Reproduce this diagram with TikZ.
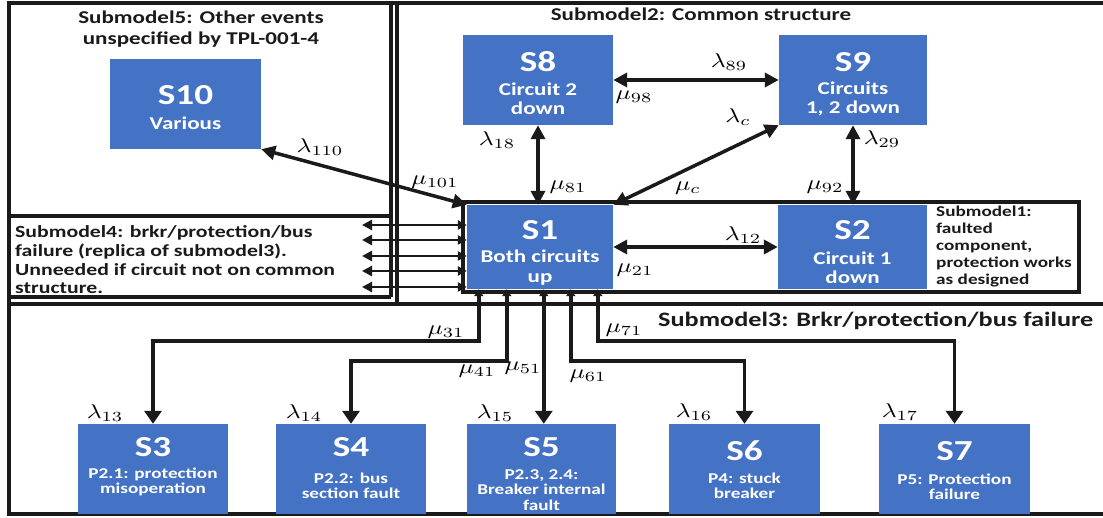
\documentclass[tikz,border=0pt]{standalone}
\usepackage{fontspec}
\setmainfont{Carlito}[FakeStretch=1.28]
\usepackage{graphicx}
\usetikzlibrary{arrows.meta,calc}
\definecolor{boxblue}{HTML}{4472C4}
\definecolor{ink}{HTML}{1A1A1A}
\newcommand{\ml}[1]{\scalebox{2.55}[2.0]{$#1$}}
\begin{document}
\begin{tikzpicture}[x=1pt,y=-1pt,
  frame/.style={line width=3.5pt,draw=ink},
  sbox/.style={fill=boxblue,draw=none,inner sep=0pt},
  slab/.style={text=white,inner sep=0pt,font=\bfseries\fontsize{29}{29}\selectfont},
  ssub/.style={text=white,inner sep=0pt,align=center,font=\bfseries\fontsize{18}{19.5}\selectfont},
  bsub/.style={text=white,inner sep=0pt,align=center,font=\bfseries\fontsize{15}{15.5}\selectfont},
  title/.style={text=ink,inner sep=0pt,align=center,font=\bfseries\fontsize{18}{21}\selectfont},
  lab/.style={inner sep=0pt},
  dbl/.style={{Triangle[length=14pt,width=14pt]}-{Triangle[length=14pt,width=14pt]},line width=3.5pt,draw=ink},
  sml/.style={{Triangle[length=10pt,width=10pt]}-{Triangle[length=9pt,width=9pt]},line width=2.8pt,draw=ink},
  bot/.style={{Triangle[length=7pt,width=9pt]}-{Triangle[length=13pt,width=17pt]},line width=3.5pt,draw=ink}
]
\useasboundingbox (0,0) rectangle (1103,518);
\fill[white] (0,0) rectangle (1103,518);

% frames
\draw[frame] (1103,3) -- (9,3) -- (9,514) -- (1103,514);
\draw[frame] (391,3) -- (391,297);
\draw[frame] (9,216) -- (391,216);
\draw[frame] (9,297) -- (391,297);
\draw[frame] (397,3) -- (397,304);
\draw[frame] (9,304) -- (1103,304);
\draw[frame] (463,202) rectangle (1079,292);

% boxes
\node[sbox,minimum width=151pt,minimum height=90pt] (S10) at (185.5,104) {};
\node[sbox,minimum width=150pt,minimum height=90pt] (S8) at (538,80) {};
\node[sbox,minimum width=148pt,minimum height=90pt] (S9) at (853,80) {};
\node[sbox,minimum width=146pt,minimum height=84pt] (S1) at (540,247) {};
\node[sbox,minimum width=149pt,minimum height=84pt] (S2) at (852.5,247) {};
\node[sbox,minimum width=150pt,minimum height=90pt] (S3) at (153,469) {};
\node[sbox,minimum width=150pt,minimum height=90pt] (S4) at (351,469) {};
\node[sbox,minimum width=149pt,minimum height=90pt] (S5) at (541.5,469) {};
\node[sbox,minimum width=151pt,minimum height=90pt] (S6) at (744.5,469) {};
\node[sbox,minimum width=151pt,minimum height=90pt] (S7) at (954.5,469) {};

% box texts
\node[slab] (S10l) at ([yshift=-36pt]S10.north) {S10};
\node[ssub] (S10s) at ([yshift=-64pt]S10.north) {Various};
\node[slab] (S8l) at ([yshift=-27pt]S8.north) {S8};
\node[ssub] (S8s) at ([yshift=-64pt]S8.north) {Circuit 2\\down};
\node[slab] (S9l) at ([yshift=-27pt]S9.north) {S9};
\node[ssub] (S9s) at ([yshift=-64pt]S9.north) {Circuits\\1, 2 down};
\node[slab] (S1l) at ([yshift=-25pt]S1.north) {S1};
\node[ssub] (S1s) at ([yshift=-63pt]S1.north) {Both circuits\\up};
\node[slab] (S2l) at ([yshift=-25pt]S2.north) {S2};
\node[ssub] (S2s) at ([yshift=-63pt]S2.north) {Circuit 1\\down};
\node[slab] (S3l) at ([yshift=-23pt]S3.north) {S3};
\node[bsub] (S3s) at ([yshift=-58pt]S3.north) {P2.1: protection\\misoperation};
\node[slab] (S4l) at ([yshift=-23pt]S4.north) {S4};
\node[bsub] (S4s) at ([yshift=-62pt]S4.north) {P2.2: bus\\section fault};
\node[slab] (S5l) at ([yshift=-23pt]S5.north) {S5};
\node[bsub] (S5s) at ([yshift=-66pt]S5.north) {P2.3, 2.4:\\Breaker internal\\fault};
\node[slab] (S6l) at ([yshift=-27pt]S6.north) {S6};
\node[bsub] (S6s) at ([yshift=-62pt]S6.north) {P4: stuck\\breaker};
\node[slab] (S7l) at ([yshift=-27pt]S7.north) {S7};
\node[bsub] (S7s) at ([yshift=-63pt]S7.north) {P5: Protection\\failure};

% titles
\node[title] (T5) at (201,29.5) {Submodel5: Other events\\unspecified by TPL-001-4};
\node[title] (T2) at (701,14) {Submodel2: Common structure};
\node[title,anchor=west,font=\bfseries\fontsize{20.5}{22}\selectfont] (T3) at (658,321) {Submodel3: Brkr/protection/bus failure};
\node[title,anchor=west,align=left,font=\bfseries\fontsize{17}{18.7}\selectfont] (T4) at (15,260) {Submodel4: brkr/protection/bus\\failure (replica of submodel3).\\Unneeded if circuit not on common\\structure.};
\node[title,anchor=west,align=left,font=\bfseries\fontsize{15}{17}\selectfont] (T1) at (936,247) {Submodel1:\\faulted\\component,\\protection works\\as designed};

% connectors
\draw[dbl] (S10.south east) -- (S1.north west);
\draw[dbl] (S8.south) -- (S8.south |- S1.north);
\draw[dbl] (S9.south) -- (S9.south |- S2.north);
\draw[dbl] (S1.north east) -- (S9.south west);
\draw[dbl] (S8.east) -- (S9.west);
\draw[dbl] (S1.east) -- (S2.west);

\coordinate (a1) at (362,225);
\coordinate (a2) at (362,240);
\coordinate (a3) at (362,256);
\coordinate (a4) at (362,271);
\coordinate (a5) at (362,287);
\foreach \k in {1,...,5} \draw[sml] (a\k) -- (a\k -| S1.west);

\draw[bot] ([xshift=12pt]S1.south west) -- ++(0,52) -| (S3.north);
\draw[bot] ([xshift=40pt]S1.south west) -- ++(0,72) -| (S4.north);
\draw[bot] ([xshift=77pt]S1.south west) -- ([xshift=77pt]S1.south west |- S5.north);
\draw[bot] ([xshift=104pt]S1.south west) -- ++(0,72) -| (S6.north);
\draw[bot] ([xshift=131pt]S1.south west) -- ++(0,52) -| (S7.north);

% rate labels
\node[lab] (l110) at (320,147) {\ml{\lambda_{110}}};
\node[lab] (m101) at (435,182) {\ml{\mu_{101}}};
\node[lab] (l18) at (497,140) {\ml{\lambda_{18}}};
\node[lab] (m81) at (568,187) {\ml{\mu_{81}}};
\node[lab] (l89) at (729,62) {\ml{\lambda_{89}}};
\node[lab] (m98) at (634,97) {\ml{\mu_{98}}};
\node[lab] (lc) at (738,117) {\ml{\lambda_c}};
\node[lab] (mc) at (688,188) {\ml{\mu_c}};
\node[lab] (l29) at (882,139) {\ml{\lambda_{29}}};
\node[lab] (m92) at (825,187) {\ml{\mu_{92}}};
\node[lab] (l12) at (743,235) {\ml{\lambda_{12}}};
\node[lab] (m21) at (635,270) {\ml{\mu_{21}}};
\node[lab] (m31) at (446,332) {\ml{\mu_{31}}};
\node[lab] (m41) at (477,371) {\ml{\mu_{41}}};
\node[lab] (m51) at (523,368) {\ml{\mu_{51}}};
\node[lab] (m61) at (588,376) {\ml{\mu_{61}}};
\node[lab] (m71) at (624,330) {\ml{\mu_{71}}};
\node[lab] (l13) at (105,413) {\ml{\lambda_{13}}};
\node[lab] (l14) at (304,413) {\ml{\lambda_{14}}};
\node[lab] (l15) at (495,413) {\ml{\lambda_{15}}};
\node[lab] (l16) at (694,412) {\ml{\lambda_{16}}};
\node[lab] (l17) at (900,412) {\ml{\lambda_{17}}};
\end{tikzpicture}
\end{document}
